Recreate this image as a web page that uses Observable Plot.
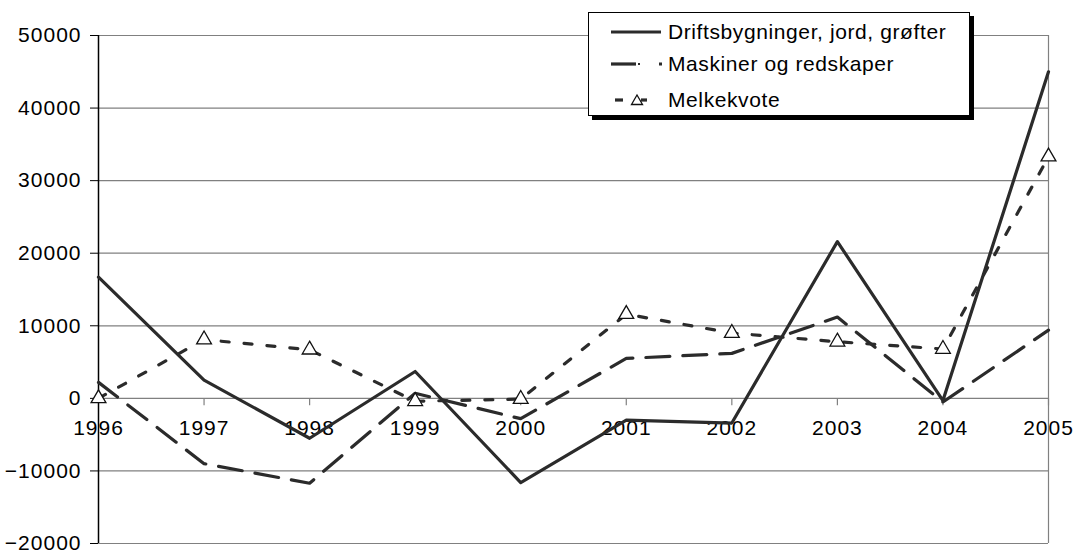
<!DOCTYPE html>
<html>
<head>
<meta charset="utf-8">
<script src="https://cdn.jsdelivr.net/npm/d3@7"></script>
<script src="https://cdn.jsdelivr.net/npm/@observablehq/plot@0.6"></script>
<style>
  body { margin: 0; background: #fff; font-family: "Liberation Sans", Arial, sans-serif; }
  #wrap { position: relative; width: 1075px; height: 552px; overflow: hidden; }
  #legend {
    position: absolute; left: 588px; top: 12px; width: 382px; height: 104px;
    box-sizing: border-box; border: 1.5px solid #000; background: #fff;
    box-shadow: 4px 4px 0 #000;
  }
  .row { position: absolute; left: 0; height: 30px; width: 100%; }
  .row svg { position: absolute; left: 22px; top: 0; }
  .row span { position: absolute; left: 79px; top: 3px; font-size: 21px; letter-spacing: 0.6px; color: #000; white-space: nowrap; }
</style>
</head>
<body>
<div id="wrap">
  <div id="chart"></div>
  <div id="legend"></div>
</div>
<script>
const years = [1996, 1997, 1998, 1999, 2000, 2001, 2002, 2003, 2004, 2005];
const drifts = [16700, 2500, -5500, 3700, -11600, -3000, -3400, 21600, -300, 45000];
const maskiner = [2200, -9000, -11700, 700, -2800, 5500, 6200, 11200, -500, 9400];
const melk = [0, 8100, 6700, -400, -100, 11600, 9000, 7800, 6800, 33300];
const seriesNames = ["Driftsbygninger, jord, grøfter", "Maskiner og redskaper", "Melkekvote"];
const yTicks = [-20000, -10000, 0, 10000, 20000, 30000, 40000, 50000];

const rows = (vals) => years.map((y, i) => ({year: y, value: vals[i]}));
const dDrifts = rows(drifts), dMask = rows(maskiner), dMelk = rows(melk);

const lineColor = "#2b2b2b";
const tickSym = { draw(context, size) { context.moveTo(0, 0); context.lineTo(0, 7); } };

const chart = Plot.plot({
  width: 1075,
  height: 552,
  marginLeft: 98,
  marginRight: 27,
  marginTop: 35,
  marginBottom: 9,
  style: { fontFamily: "'Liberation Sans', Arial, sans-serif", background: "#fff", overflow: "visible" },
  x: { domain: [years[0], years[years.length - 1]], axis: null },
  y: { domain: [yTicks[0], yTicks[yTicks.length - 1]], axis: null },
  marks: [
    Plot.gridY(yTicks, { stroke: "#808080", strokeOpacity: 1, strokeWidth: 1.2 }),
    Plot.ruleX([years[years.length - 1]], { stroke: "#808080", strokeWidth: 1.2 }),
    Plot.dot(years.slice(1), { x: d => d, y: 0, symbol: tickSym, r: 4, stroke: "#808080", strokeWidth: 1.2, fill: "none" }),
    Plot.axisY(yTicks, {
      label: null, tickSize: 8, tickPadding: 9, fontSize: 21, stroke: "#000",
      tickFormat: d3.format("d"), fill: "#000"
    }),
    Plot.ruleX([years[0]], { stroke: "#000", strokeWidth: 1.5 }),
    Plot.text(years, { x: d => d, y: 0, dy: 30, text: d => String(d), fontSize: 21, fill: "#000" }),
    Plot.line(dDrifts, { x: "year", y: "value", stroke: lineColor, strokeWidth: 3.2 }),
    Plot.line(dMask, { x: "year", y: "value", stroke: lineColor, strokeWidth: 3.2, strokeDasharray: "24,13" }),
    Plot.line(dMelk, { x: "year", y: "value", stroke: lineColor, strokeWidth: 3.2, strokeDasharray: "8,15" }),
    Plot.dot(dMelk, { x: "year", y: "value", symbol: "triangle", r: 5.5, fill: "#fff", stroke: "#111", strokeWidth: 1.3 })
  ]
});
chart.querySelectorAll("text").forEach(t => { t.style.letterSpacing = "1px"; });
document.getElementById("chart").appendChild(chart);

// Legend
const legend = document.getElementById("legend");
const samples = [
  `<line x1="0" y1="15" x2="50" y2="15" stroke="${lineColor}" stroke-width="3.2"/>`,
  `<line x1="0" y1="15" x2="25" y2="15" stroke="${lineColor}" stroke-width="3.2"/><rect x="27" y="14" width="2" height="2" fill="${lineColor}"/><rect x="48" y="13.5" width="3" height="3" fill="${lineColor}"/>`,
  `<line x1="4" y1="15" x2="12" y2="15" stroke="${lineColor}" stroke-width="3.2"/><line x1="30" y1="15" x2="36" y2="15" stroke="${lineColor}" stroke-width="3.2"/><path d="M26,10 L31.5,19.5 L20.5,19.5 Z" fill="#fff" stroke="#111" stroke-width="1.3"/>`
];
const tops = [4, 36, 72];
seriesNames.forEach((name, i) => {
  const row = document.createElement("div");
  row.className = "row";
  row.style.top = tops[i] + "px";
  row.innerHTML = `<svg width="56" height="30">${samples[i]}</svg><span>${name}</span>`;
  legend.appendChild(row);
});
</script>
</body>
</html>
